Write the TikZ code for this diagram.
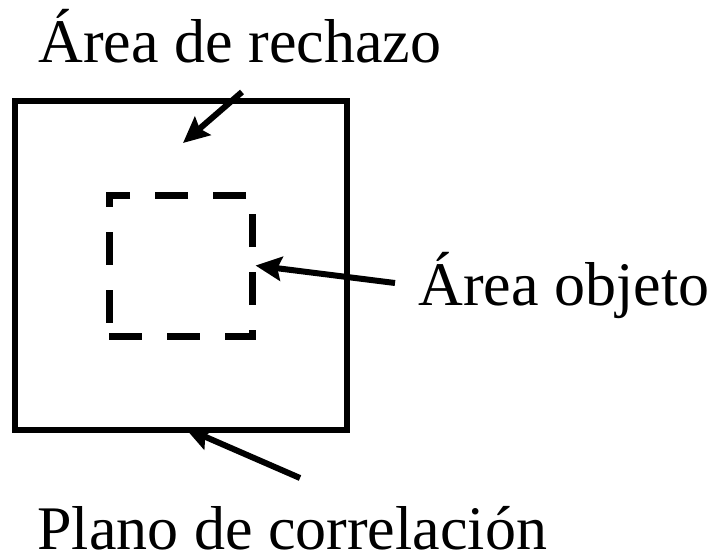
\documentclass[tikz,border=0pt]{standalone}
\usepackage{fontspec}
\setmainfont{Liberation Serif}
\usetikzlibrary{arrows.meta,positioning}

\begin{document}
\begin{tikzpicture}[
        x=0.5pt, y=-0.5pt,
        plane/.style={draw, line width=3pt, inner sep=0pt, minimum width=166pt, minimum height=164.5pt},
        objbox/.style={draw, line width=3.5pt, dash pattern=on 16.5pt off 12.5pt, inner sep=0pt, minimum width=71.5pt, minimum height=70.5pt},
        lbl/.style={inner sep=0pt, text depth=0pt, anchor=base west, font=\fontsize{31pt}{37pt}\selectfont},
        pointer/.style={-{Stealth[length=13pt, width=12pt, inset=2pt]}, line width=3pt}
    ]
        \useasboundingbox (0,0) rectangle (715,556);

        \node[plane] (corr) at (181,265.5) {};
        \node[objbox] (obj) at (180.5,265.5) {};

        \node[lbl] (rech) at (38,62) {Área de rechazo};
        \node[lbl] (objlbl) at (418,305) {Área objeto};
        \node[lbl] (corrlbl) at (37,549) {Plano de correlación};

        \coordinate (rechtail) at (242,92);
        \coordinate (rechtip) at (183,143);
        \coordinate (objtail) at (395,283);
        \coordinate (corrtail) at (300,478);
        \coordinate (corrtip) at (185,428);

        \draw[pointer] (rechtail) -- (rechtip);
        \draw[pointer] (objtail) -- (obj.east);
        \draw[pointer] (corrtail) -- (corrtip);
    \end{tikzpicture}
\end{document}
